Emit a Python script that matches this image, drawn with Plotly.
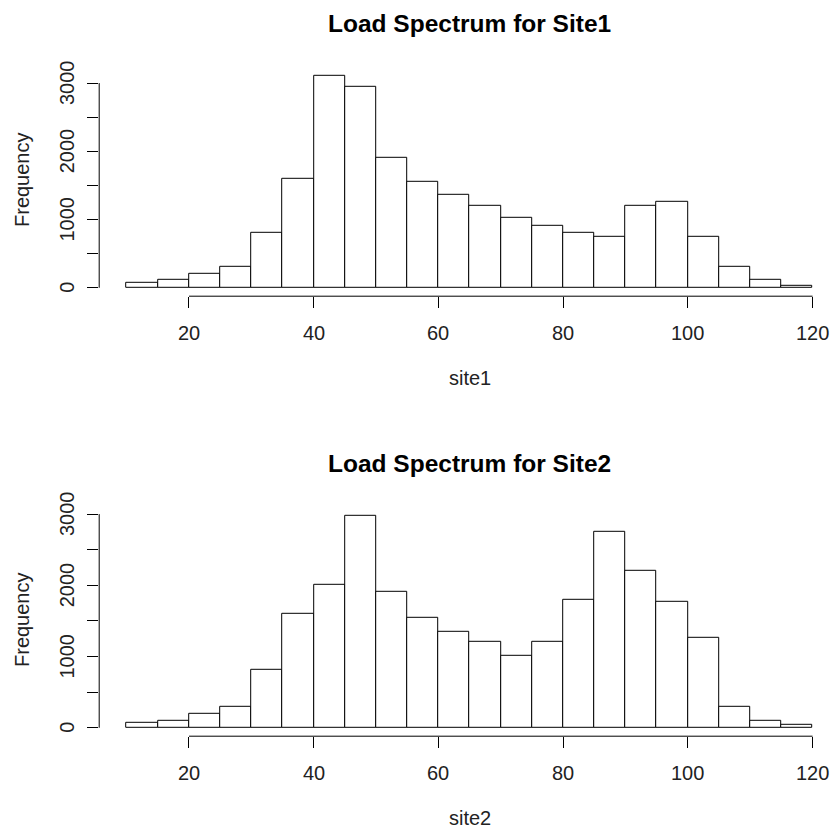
import plotly.graph_objects as go

# ---- data ----
breaks = [10, 15, 20, 25, 30, 35, 40, 45, 50, 55, 60, 65, 70, 75, 80, 85, 90, 95, 100, 105, 110, 115, 120]
site1_counts = [78, 110, 210, 300, 800, 1600, 3100, 2950, 1900, 1560, 1360, 1200, 1020, 910, 810, 750, 1200, 1260, 750, 300, 110, 35]
site2_counts = [75, 100, 200, 300, 810, 1600, 2010, 2970, 1910, 1550, 1350, 1200, 1010, 1200, 1800, 2750, 2210, 1770, 1270, 300, 100, 40]
x_ticks = [20, 40, 60, 80, 100, 120]
y_ticks = [0, 500, 1000, 1500, 2000, 2500, 3000]
y_labels = ["0", "", "1000", "", "2000", "", "3000"]
titles = ["Load Spectrum for Site1", "Load Spectrum for Site2"]
xlabels = ["site1", "site2"]

# ---- geometry ----
W, H = 832, 829
FONT = "Liberation Sans, Arial, sans-serif"
left_px = 99.2
full_right_px = 840.0
xlim = [breaks[0] - 0.04 * (breaks[-1] - breaks[0]), breaks[-1] + 0.04 * (breaks[-1] - breaks[0])]
x_end = xlim[0] + (xlim[1] - xlim[0]) * (W - left_px) / (full_right_px - left_px)
panels_px = [(67.8, 296.2), (507.8, 736.2)]  # top, bottom of plot region (px from top)

centers = [(a + b) / 2 for a, b in zip(breaks[:-1], breaks[1:])]
widths = [b - a for a, b in zip(breaks[:-1], breaks[1:])]

fig = go.Figure()
annotations = []
shapes = []

for i, (counts, title, xlab) in enumerate(zip([site1_counts, site2_counts], titles, xlabels)):
    n = "" if i == 0 else str(i + 1)
    xa, ya = "x" + n, "y" + n
    top_px, bot_px = panels_px[i]
    fig.add_trace(go.Bar(
        x=centers, y=counts, width=widths, xaxis=xa, yaxis=ya,
        marker=dict(color="white", line=dict(color="black", width=1)),
        showlegend=False, hoverinfo="x+y",
    ))
    ymax = max(counts)
    dom = [1 - bot_px / H, 1 - top_px / H]
    axkw = dict(showgrid=False, zeroline=False, showline=False,
                ticks="outside", ticklen=11, tickwidth=1, tickcolor="black",
                showticklabels=False)
    fig.update_layout(**{
        ("xaxis" + n): dict(domain=[left_px / W, 1.0], range=[xlim[0], x_end],
                            tickmode="array", tickvals=x_ticks, anchor=ya, **axkw),
        ("yaxis" + n): dict(domain=dom, range=[-0.04 * ymax, 1.04 * ymax],
                            tickmode="array", tickvals=y_ticks, anchor=xa, **axkw),
    })
    # R-style axis lines
    shapes.append(dict(type="line", xref=xa, x0=x_ticks[0], x1=x_ticks[-1],
                       yref=ya + " domain", y0=0, y1=0, line=dict(color="black", width=1)))
    shapes.append(dict(type="line", xref=xa + " domain", x0=0, x1=0,
                       yref=ya, y0=y_ticks[0], y1=y_ticks[-1], line=dict(color="black", width=1)))
    # x tick labels
    for v in x_ticks:
        annotations.append(dict(x=v, xref=xa, y=1 - (bot_px + 37) / H, yref="paper",
                                text=str(v), showarrow=False, xanchor="center", yanchor="middle",
                                font=dict(family=FONT, size=20, color="#222")))
    # y tick labels (rotated)
    for v, t in zip(y_ticks, y_labels):
        if t:
            annotations.append(dict(x=67 / W, xref="paper", y=v, yref=ya, text=t,
                                    textangle=-90, showarrow=False, xanchor="center", yanchor="middle",
                                    font=dict(family=FONT, size=20, color="#222")))
    # title
    annotations.append(dict(x=(left_px + full_right_px) / 2 / W, xref="paper",
                            y=1 - (top_px - 44) / H, yref="paper", text="<b>" + title + "</b>",
                            showarrow=False, xanchor="center", yanchor="middle",
                            font=dict(family=FONT, size=24.5, color="black")))
    # x label
    annotations.append(dict(x=(left_px + full_right_px) / 2 / W, xref="paper",
                            y=1 - (bot_px + 82) / H, yref="paper", text=xlab, borderpad=0,
                            showarrow=False, xanchor="center", yanchor="middle",
                            font=dict(family=FONT, size=20, color="#222")))
    # y label
    annotations.append(dict(x=22 / W, xref="paper", y=1 - ((top_px + bot_px) / 2 - 2) / H, yref="paper",
                            text="Frequency", textangle=-90, showarrow=False,
                            xanchor="center", yanchor="middle",
                            font=dict(family=FONT, size=20, color="#222")))

fig.update_layout(
    width=W, height=H, margin=dict(l=0, r=0, t=0, b=0),
    paper_bgcolor="white", plot_bgcolor="white", bargap=0,
    annotations=annotations, shapes=shapes,
)

fig.write_html("out.html", config={"displayModeBar": False},
               post_script="document.body.style.margin='0';document.body.style.overflow='hidden';")
